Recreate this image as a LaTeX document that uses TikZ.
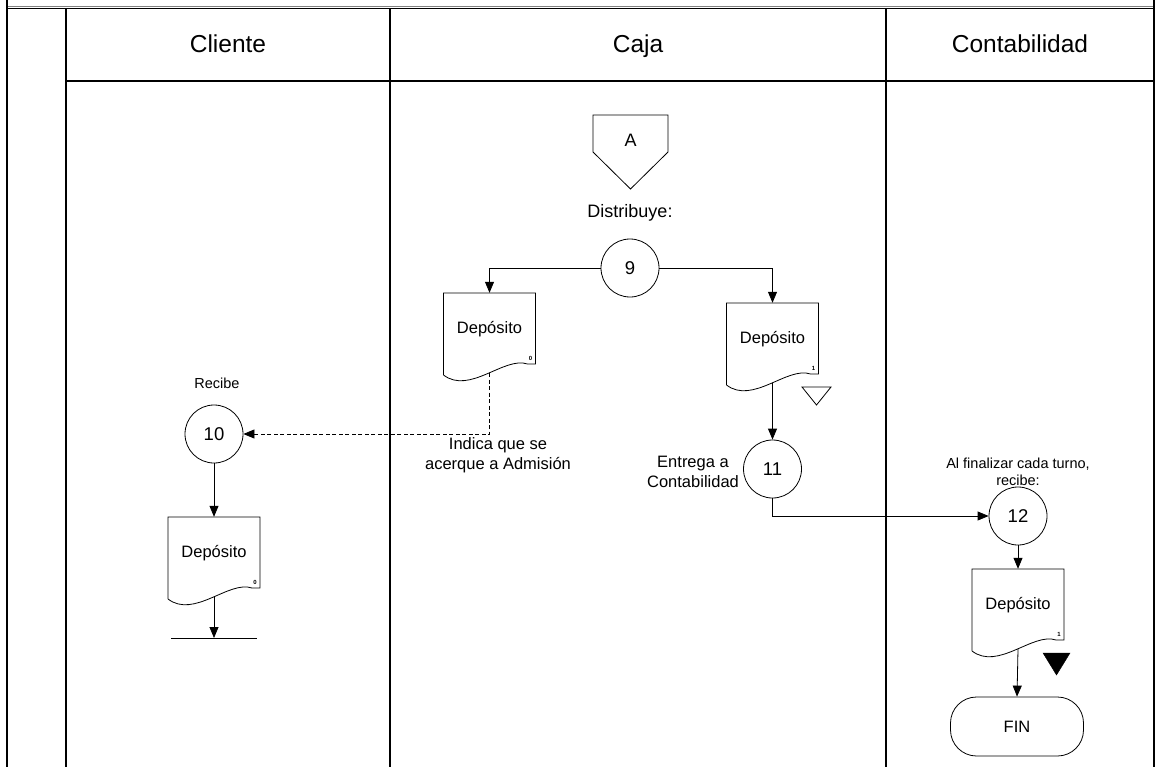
\documentclass[tikz,border=0pt]{standalone}
\usepackage{fontspec}
\setmainfont{Liberation Sans}
\usetikzlibrary{arrows.meta}

\newcommand{\headFont}{\fontsize{24.5}{28}\selectfont}
\newcommand{\bodyFont}{\fontsize{16.5}{20}\selectfont}
\newcommand{\numFont}{\fontsize{18.5}{22}\selectfont}
\newcommand{\smallFont}{\fontsize{14.5}{17}\selectfont}

% document symbol drawn round a named node, #2 is the copy number
\newcommand{\docShape}[2]{%
  \begin{scope}[shift={(#1.center)}]
    \draw[docLine] (-46,46) -- (-46,-36) -- (46,-36) -- (46,35) -- (38,35)
      .. controls (15,27) and (-20,66) .. (-46,46);
    \node[copyNum] at (41,29) {#2};
    \coordinate (#1-bot) at (0,44);
  \end{scope}}

\begin{document}
\begin{tikzpicture}[x=1pt, y=-1pt,
    laneLine/.style={line width=1.3pt},
    docLine/.style={line width=0.8pt},
    flowArrow/.style={line width=0.8pt, -{Triangle[length=11pt,width=9pt]}},
    dashArrow/.style={flowArrow, dash pattern=on 4pt off 2.5pt},
    stepCircle/.style={draw, circle, line width=0.8pt, minimum size=58pt, inner sep=0pt, font=\numFont},
    docBox/.style={rectangle, minimum width=92pt, minimum height=72pt, inner sep=0pt, font=\bodyFont},
    copyNum/.style={font=\fontsize{6}{7}\selectfont\bfseries, inner sep=0pt},
    laneTitle/.style={anchor=base, font=\headFont},
    noteText/.style={align=center, font=\bodyFont, inner sep=0pt},
    smallNote/.style={align=center, font=\smallFont, inner sep=0pt}]

    \def\laneTop{8.5}
    \def\headBottom{81}
    \def\pageBottom{767}

    \useasboundingbox (0,0) rectangle (1155,767);

    % Draw frame and swimlanes
    \draw[gray, line width=1pt] (7,6.5) -- (1154,6.5);
    \draw[laneLine] (7,\laneTop) -- (1154,\laneTop);
    \draw[laneLine] (7,0) -- (7,\pageBottom);
    \draw[laneLine] (1154,0) -- (1154,\pageBottom);
    \foreach \x in {66,390,886}
        \draw[laneLine] (\x,\laneTop) -- (\x,\pageBottom);
    \draw[laneLine] (66,\headBottom) -- (1154,\headBottom);

    % Lane titles
    \node[laneTitle] (hCliente) at (228,53) {Cliente};
    \node[laneTitle] (hCaja) at (638,53) {Caja};
    \node[laneTitle] (hConta) at (1020,53) {Contabilidad};

    % Off-page connector A
    \node[font=\fontsize{18}{20}\selectfont] (offA) at (630.5,140) {A};
    \draw[docLine] (593,115) -- (668,115) -- (668,152) -- (630.5,189) -- (593,152) -- cycle;
    \node[noteText, font=\fontsize{18}{20}\selectfont] (tDistribuye) at (630,213) {Distribuye:};

    % Steps
    \node[stepCircle] (c9) at (630,268) {9};
    \node[stepCircle] (c10) at (214,434) {10};
    \node[stepCircle] (c11) at (772.5,469) {11};
    \node[stepCircle] (c12) at (1018,516) {12};

    % Documents
    \node[docBox] (dCaja0) at (489.5,329) {Depósito};
    \node[docBox] (dCaja1) at (772.5,339) {Depósito};
    \node[docBox] (dCliente) at (214,553) {Depósito};
    \node[docBox] (dConta) at (1018,605) {Depósito};
    \docShape{dCaja0}{0}
    \docShape{dCaja1}{1}
    \docShape{dCliente}{0}
    \docShape{dConta}{1}

    % End of process
    \node[draw, line width=0.8pt, rounded corners=26pt, minimum width=133pt,
          minimum height=59pt, font=\bodyFont] (fin) at (1017,726.5) {FIN};

    % Notes
    \node[smallNote] (tRecibe) at (217,383) {Recibe};
    \node[noteText] (tIndica) at (498,455) {Indica que se\\acerque a Admisión};
    \node[noteText] (tEntrega) at (693,472) {Entrega a\\Contabilidad};
    \node[smallNote] (tTurno) at (1018,471.5) {Al finalizar cada turno,\\recibe:};

    % Archive marks
    \draw[docLine] (802,387) -- (831,387) -- (816.5,405) -- cycle;
    \filldraw[black] (1043,653) -- (1070,653) -- (1056.5,675) -- cycle;

    % Flow
    \draw[flowArrow] (c9.west) -| (dCaja0.north);
    \draw[flowArrow] (c9.east) -| (dCaja1.north);
    \draw[dashArrow] (dCaja0-bot) |- (c10.east);
    \draw[flowArrow] (c10.south) -- (dCliente.north);
    \coordinate (endCliente) at (214,638);
    \draw[flowArrow] (dCliente-bot) -- (endCliente);
    \draw[docLine] ([xshift=-43pt]endCliente) -- ([xshift=43pt]endCliente);
    \draw[flowArrow] (dCaja1-bot) -- (c11.north);
    \draw[flowArrow] (c11.south) |- (c12.west);
    \draw[flowArrow] (c12.south) -- (dConta.north);
    \draw[flowArrow] (dConta-bot) -- (fin.north);

\end{tikzpicture}
\end{document}
